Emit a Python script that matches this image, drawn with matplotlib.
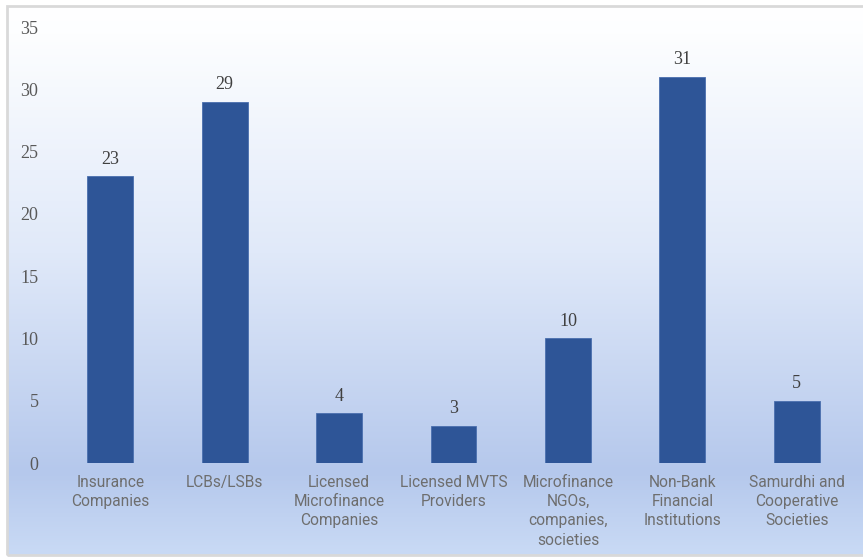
import matplotlib
matplotlib.use("Agg")
import matplotlib.pyplot as plt
import numpy as np
from matplotlib.colors import LinearSegmentedColormap
from matplotlib.patches import Rectangle

plt.rcParams["font.family"] = ["Liberation Serif", "DejaVu Serif"]

categories = ["Insurance\nCompanies", "LCBs/LSBs", "Licensed\nMicrofinance\nCompanies",
              "Licensed MVTS\nProviders", "Microfinance\nNGOs,\ncompanies,\nsocieties",
              "Non-Bank\nFinancial\nInstitutions", "Samurdhi and\nCooperative\nSocieties"]
values = [23, 29, 4, 3, 10, 31, 5]
yticks = [0, 5, 10, 15, 20, 25, 30, 35]

W, H = 863, 558
fig = plt.figure(figsize=(W / 100, H / 100), dpi=100)
fig.patch.set_facecolor("white")

# background gradient panel
bx0, by_top, bx1, by_bot = 7, 6, 863, 555
bg = fig.add_axes([bx0 / W, 1 - by_bot / H, (bx1 - bx0) / W, (by_bot - by_top) / H])
cmap = LinearSegmentedColormap.from_list(
    "g", [(0.0, "#ffffff"), (0.05, "#fdfeff"), (0.45, "#e0e9f9"), (0.85, "#b5c8ec"), (1.0, "#c9daf5")])
grad = np.linspace(0, 1, 256).reshape(-1, 1)
bg.imshow(grad, aspect="auto", cmap=cmap, extent=[0, 1, 0, 1], origin="upper")
bg.set_xlim(0, 1)
bg.set_ylim(0, 1)
bg.axis("off")
fig.patches.append(Rectangle((bx0 / W, 1 - by_bot / H), (bx1 - bx0 + 5) / W, (by_bot - by_top) / H,
                             transform=fig.transFigure, fill=False, edgecolor="#d9d9d9",
                             linewidth=2, zorder=5))

# main axes
ax_left, ax_right = 53, 854
ax_top, ax_bot = 27, 463
ax = fig.add_axes([ax_left / W, 1 - ax_bot / H, (ax_right - ax_left) / W, (ax_bot - ax_top) / H])
ax.patch.set_alpha(0)
x = np.arange(len(categories))
bars = ax.bar(x, values, width=0.40, color="#2E5597", edgecolor="#4a6fae", linewidth=0.6)
ax.set_xlim(-0.5, len(categories) - 0.5)
ax.set_ylim(0, 35)
ax.set_yticks(yticks)
ax.set_yticklabels([str(t) for t in yticks], family="Liberation Serif", fontsize=13, color="#595959")
ax.set_xticks(x)
ax.set_xticklabels(categories, family="Roboto", fontsize=11.2, color="#6e6e6e", linespacing=1.36)
ax.tick_params(axis="both", length=0)
ax.tick_params(axis="x", pad=8.5)
ax.tick_params(axis="y", pad=10.5)
for s in ax.spines.values():
    s.set_visible(False)
for xi, v in zip(x, values):
    ax.annotate(str(v), (xi, v), xytext=(0, 6), textcoords="offset points", ha="center", va="bottom",
                family="Liberation Serif", fontsize=13, color="#404040")

fig.savefig("out.png", dpi=100)
